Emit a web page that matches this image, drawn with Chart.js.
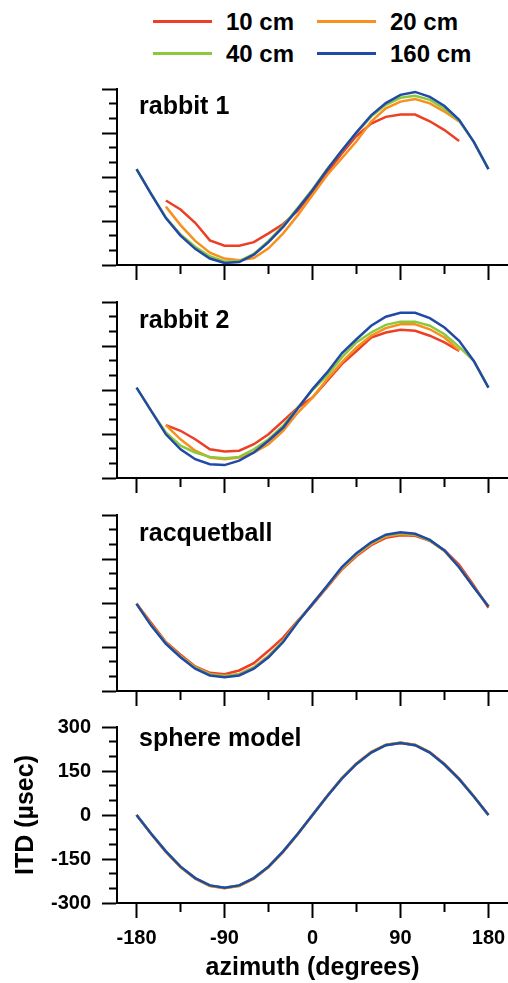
<!DOCTYPE html>
<html>
<head>
<meta charset="utf-8">
<script src="https://cdn.jsdelivr.net/npm/chart.js@4/dist/chart.umd.min.js"></script>
<style>
body { margin:0; background:#fff; }
#wrap { position:relative; width:508px; height:983px; overflow:hidden;
        font-family:"Liberation Sans", Arial, sans-serif; }
canvas { position:absolute; left:0; }
.key { position:absolute; width:59px; height:3px; }
.lab { position:absolute; font-weight:bold; font-size:24px; line-height:24px; color:#000; white-space:nowrap; }
</style>
</head>
<body>
<div id="wrap">
  <canvas id="c1" width="508" height="211" style="top:74px"></canvas>
  <canvas id="c2" width="508" height="211" style="top:287px"></canvas>
  <canvas id="c3" width="508" height="211" style="top:500px"></canvas>
  <canvas id="c4" width="508" height="271" style="top:712px"></canvas>
</div>
<script>
// ======================
// DATA
// ======================

const distances = ["10 cm", "20 cm", "40 cm", "160 cm"];
const colors = ["#ec3f24", "#f7901e", "#8cc83c", "#2149a6"];

const azimuth = [-180,-165,-150,-135,-120,-105,-90,-75,-60,-45,-30,-15,0,
                 15,30,45,60,75,90,105,120,135,150,165,180];
const azimuthShort = [-150,-135,-120,-105,-90,-75,-60,-45,-30,-15,0,
                      15,30,45,60,75,90,105,120,135,150];

const xTicks = [-180,-135,-90,-45,0,45,90,135,180];
const yTicks = [-300,-250,-200,-150,-100,-50,0,50,100,150,200,250,300];

// rabbit 1
const r1_10  = [-80,-111,-156,-216,-234,-234,-222,-192,-160,-115,-52,15,80,140,182,205,213,213,190,160,123];
const r1_20  = [-101,-164,-218,-258,-278,-284,-276,-243,-192,-130,-61,7,64,122,189,234,257,266,251,223,189];
const r1_40  = [27,-58,-138,-196,-238,-270,-288,-287,-262,-218,-166,-105,-42,27,90,150,206,246,270,277,263,233,192,120,27];
const r1_160 = [27,-58,-140,-200,-245,-278,-293,-290,-265,-222,-170,-108,-45,25,90,152,210,252,280,290,273,242,195,120,27];

// rabbit 2
const r2_10  = [-120,-139,-168,-202,-210,-207,-185,-151,-105,-60,-26,31,88,133,179,196,205,202,185,162,133];
const r2_20  = [-120,-168,-207,-230,-236,-230,-213,-185,-139,-77,-26,37,94,145,185,211,224,224,207,179,135];
const r2_40  = [8,-71,-145,-190,-213,-228,-233,-228,-202,-168,-122,-60,0,50,111,162,196,222,233,233,219,190,147,99,8];
const r2_160 = [8,-71,-151,-202,-236,-253,-256,-241,-213,-173,-128,-62,3,60,125,173,219,250,263,263,245,213,168,99,8];

// racquetball
const rb_10  = [-2,-68,-133,-176,-216,-238,-243,-230,-205,-163,-118,-60,-6,54,114,160,197,222,231,229,212,180,130,60,-16];
const rb_20  = [-2,-74,-135,-181,-219,-242,-248,-242,-219,-180,-128,-62,-4,56,117,164,201,227,235,232,212,177,123,55,-12];
const rb_40  = [-3,-76,-137,-183,-221,-244,-250,-244,-221,-182,-130,-63,-2,58,120,167,204,230,238,234,213,178,122,54,-12];
const rb_160 = [-3,-77,-139,-185,-224,-247,-253,-247,-224,-185,-133,-65,-3,59,122,170,207,233,241,236,215,179,122,54,-12];

// sphere model
const sp_10  = [0,-65,-125,-177,-216,-241,-249,-241,-216,-177,-125,-65,0,65,125,175,214,239,246,239,214,173,123,64,0];
const sp_20  = [0,-65,-126,-178,-217,-242,-250,-242,-217,-178,-126,-65,0,65,126,176,215,240,247,240,215,174,124,64,0];
const sp_40  = [0,-64,-124,-176,-215,-240,-248,-240,-215,-176,-124,-64,0,64,124,174,213,238,245,238,213,172,122,63,0];
const sp_160 = [0,-64,-124,-176,-215,-240,-248,-240,-215,-176,-124,-64,0,64,124,174,213,238,245,238,213,172,122,63,0];

// ======================
// LEGEND (html)
// ======================

const wrap = document.getElementById("wrap");

distances.forEach((d, i) => {
    const col = i % 2;
    const row = Math.floor(i / 2);

    const key = document.createElement("span");
    key.className = "key";
    key.style.left = (153 + col * 164) + "px";
    key.style.top = (20 + row * 32) + "px";
    key.style.background = colors[i];
    wrap.appendChild(key);

    const lab = document.createElement("span");
    lab.className = "lab";
    lab.style.left = (226 + col * 164) + "px";
    lab.style.top = (10 + row * 32) + "px";
    lab.textContent = d;
    wrap.appendChild(lab);
});

// ======================
// CHART SETTINGS
// ======================

Chart.defaults.font.family = "'Liberation Sans', Arial, sans-serif";
Chart.defaults.font.weight = "bold";
Chart.defaults.color = "#000";

const panelLabel = {
    id: "panelLabel",
    afterDraw(chart, args, opts) {
        const {ctx, chartArea} = chart;
        ctx.save();
        ctx.font = "bold 25px 'Liberation Sans', Arial, sans-serif";
        ctx.fillStyle = "#000";
        ctx.textBaseline = "alphabetic";
        ctx.fillText(opts.text, chartArea.left + 22, chartArea.top + opts.dy);
        ctx.restore();
    }
};

function points(xs, ys){
    return xs.map((x, i) => ({x: x, y: ys[i]}));
}

function makePanel(id, label, labelDy, series, bottom){

    new Chart(
    document.getElementById(id),
    {
        type: "line",
        data: {
            datasets: distances.map((d, i) => ({
                label: d,
                data: points(series[i][0], series[i][1]),
                borderColor: colors[i],
                borderWidth: 2.5,
                pointRadius: 0,
                tension: 0,
                fill: false,
                order: 3 - i
            }))
        },
        options: {
            responsive: false,
            animation: false,
            layout: { padding: { top: 15, left: 0, right: 0, bottom: 0 } },
            plugins: {
                legend: { display: false },
                tooltip: { enabled: false },
                panelLabel: { text: label, dy: labelDy }
            },
            scales: {
                x: {
                    type: "linear",
                    min: -200,
                    max: 200,
                    afterBuildTicks: s => { s.ticks = xTicks.map(v => ({value: v})); },
                    afterFit: s => { s.height = bottom ? 80 : 20; s.paddingLeft = 0; s.paddingRight = 0; },
                    grid: {
                        drawOnChartArea: false,
                        tickLength: 15,
                        tickWidth: 2,
                        tickColor: "#000",
                        tickBorderDash: c => (c.tick && c.tick.value % 90 !== 0) ? [8, 100] : []
                    },
                    border: { color: "#000", width: 2 },
                    ticks: {
                        display: bottom,
                        autoSkip: false,
                        maxRotation: 0,
                        minRotation: 0,
                        padding: 8,
                        color: "#000",
                        font: { size: 20, weight: "bold" },
                        callback: v => v % 90 === 0 ? String(v) : ""
                    },
                    title: {
                        display: bottom,
                        text: "azimuth (degrees)",
                        color: "#000",
                        font: { size: 25, weight: "bold" },
                        padding: 0
                    }
                },
                y: {
                    min: -300,
                    max: 300,
                    afterBuildTicks: s => { s.ticks = yTicks.map(v => ({value: v})); },
                    afterFit: s => { s.width = 117; s.paddingTop = 0; s.paddingBottom = 0; },
                    grid: {
                        drawOnChartArea: false,
                        tickLength: 15,
                        tickWidth: 2,
                        tickColor: "#000",
                        tickBorderDash: c => (c.tick && c.tick.value % 150 !== 0) ? [0, 7, 8, 100] : []
                    },
                    border: { color: "#000", width: 2 },
                    ticks: {
                        display: bottom,
                        autoSkip: false,
                        padding: 11,
                        color: "#000",
                        font: { size: 20, weight: "bold" },
                        callback: v => v % 150 === 0 ? String(v) : ""
                    },
                    title: {
                        display: bottom,
                        text: "ITD (µsec)",
                        color: "#000",
                        font: { size: 25, weight: "bold" },
                        padding: { top: 11, bottom: 0 }
                    }
                }
            }
        },
        plugins: [panelLabel]
    });

}

// ======================
// PANELS
// ======================

makePanel("c1", "rabbit 1", 25, [
    [azimuthShort, r1_10], [azimuthShort, r1_20], [azimuth, r1_40], [azimuth, r1_160]
], false);

makePanel("c2", "rabbit 2", 26, [
    [azimuthShort, r2_10], [azimuthShort, r2_20], [azimuth, r2_40], [azimuth, r2_160]
], false);

makePanel("c3", "racquetball", 26, [
    [azimuth, rb_10], [azimuth, rb_20], [azimuth, rb_40], [azimuth, rb_160]
], false);

makePanel("c4", "sphere model", 19, [
    [azimuth, sp_10], [azimuth, sp_20], [azimuth, sp_40], [azimuth, sp_160]
], true);
</script>
</body>
</html>
